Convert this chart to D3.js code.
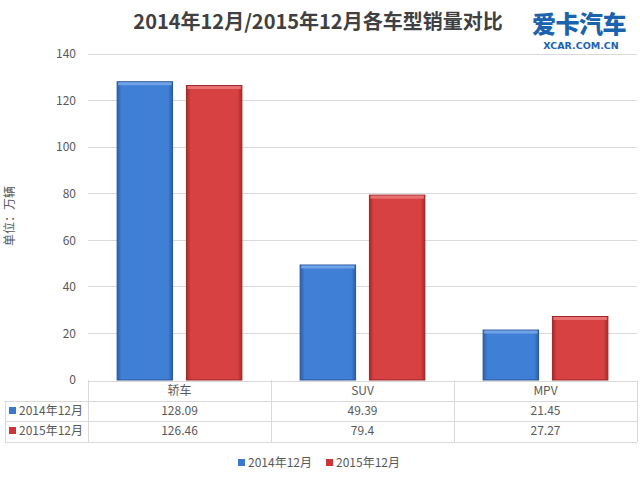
<!DOCTYPE html>
<html><head><meta charset="utf-8">
<script src="https://cdn.jsdelivr.net/npm/d3@7"></script>
<style>body{margin:0;background:#fff}svg{display:block}</style>
</head><body>
<script>
const categories = ["轿车","SUV","MPV"];
const seriesNames = ["2014年12月","2015年12月"];
const values2014 = [128.09, 49.39, 21.45];
const values2015 = [126.46, 79.4, 27.27];
const valueLabels2014 = ["128.09","49.39","21.45"];
const valueLabels2015 = ["126.46","79.4","27.27"];
const yTicks = [0,20,40,60,80,100,120,140];
const title = "2014年12月/2015年12月各车型销量对比";
const yLabel = "单位：万辆";

const W=640,H=480;
const svg=d3.select("body").append("svg").attr("width",W).attr("height",H);
const font="'Noto Sans CJK SC','Noto Sans',sans-serif";
const gray="#595959";
const plotL=88, plotR=637, plotT=54, plotB=380;

const x=d3.scaleBand().domain(categories).range([plotL,plotR]).paddingInner(0).paddingOuter(0);
const y=d3.scaleLinear().domain([0,140]).range([plotB,plotT]);
const xs=d3.scaleBand().domain(seriesNames).range([0,x.bandwidth()]).paddingInner(0.2).paddingOuter(0.42);

const defs=svg.append("defs");
function grad(id,edge,mid){
  const g=defs.append("linearGradient").attr("id",id).attr("x1","0").attr("x2","1").attr("y1","0").attr("y2","0");
  g.append("stop").attr("offset","0").attr("stop-color",edge);
  g.append("stop").attr("offset","0.08").attr("stop-color",mid);
  g.append("stop").attr("offset","0.92").attr("stop-color",mid);
  g.append("stop").attr("offset","1").attr("stop-color",edge);
}
grad("gb","#2c5ea8","#3f7fd6");
grad("gr","#a82a2a","#d84141");
const fills={"2014年12月":"url(#gb)","2015年12月":"url(#gr)"};
const strokes={"2014年12月":"#2a5696","2015年12月":"#9a2626"};
const tops={"2014年12月":"#6fa2e6","2015年12月":"#e87272"};
const solid={"2014年12月":"#3a78cc","2015年12月":"#cc3535"};

// title
svg.append("text").attr("x",318).attr("y",29).attr("text-anchor","middle")
  .attr("font-family",font).attr("font-weight","bold").attr("font-size",20).attr("fill","#404040").text(title);
// logo
svg.append("text").attr("x",579).attr("y",33).attr("text-anchor","middle")
  .attr("font-family",font).attr("font-weight","900").attr("font-size",24).attr("fill","#1b63ae").attr("letter-spacing",-0.5).text("爱卡汽车");
svg.append("text").attr("x",581).attr("y",49).attr("text-anchor","middle")
  .attr("font-family","'DejaVu Sans',sans-serif").attr("font-weight","bold").attr("font-size",9.5).attr("fill","#1b63ae").text("XCAR.COM.CN");

// gridlines
svg.append("g").selectAll("line").data(yTicks.filter(d=>d>0)).join("line")
  .attr("x1",plotL).attr("x2",plotR).attr("y1",d=>y(d)).attr("y2",d=>y(d))
  .attr("stroke","#d9d9d9").attr("stroke-width",1).attr("shape-rendering","crispEdges");

// y axis
const ya=svg.append("g").attr("transform",`translate(${plotL},0)`)
  .call(d3.axisLeft(y).tickValues(yTicks).tickSize(0).tickPadding(12));
ya.select(".domain").remove();
ya.selectAll("text").attr("font-family",font).attr("font-size",12).attr("fill",gray);

svg.append("text").attr("transform","translate(14,216) rotate(-90)").attr("text-anchor","middle")
  .attr("font-family",font).attr("font-size",12).attr("fill",gray).text(yLabel);

// bars
const rows=categories.map((c,i)=>({c,vals:[{s:seriesNames[0],v:values2014[i]},{s:seriesNames[1],v:values2015[i]}]}));
const bg=svg.append("g").selectAll("g").data(rows).join("g").attr("transform",d=>`translate(${x(d.c)},0)`);
const bar=bg.selectAll("g").data(d=>d.vals).join("g");
bar.append("rect").attr("x",d=>xs(d.s)).attr("width",xs.bandwidth())
  .attr("y",d=>y(d.v)).attr("height",d=>y(0)-y(d.v))
  .attr("fill",d=>fills[d.s]).attr("stroke",d=>strokes[d.s]).attr("stroke-width",1);
bar.append("rect").attr("x",d=>xs(d.s)+1).attr("width",xs.bandwidth()-2)
  .attr("y",d=>y(d.v)+0.5).attr("height",3).attr("fill",d=>tops[d.s]);

// data table
const tL=5, hTop=381, r1=401, r2=421, tB=442;
const tg=svg.append("g").attr("stroke","#d9d9d9").attr("stroke-width",1).attr("shape-rendering","crispEdges");
tg.append("line").attr("x1",plotL).attr("x2",plotR).attr("y1",hTop).attr("y2",hTop);
[r1,r2,tB].forEach(yy=>tg.append("line").attr("x1",tL).attr("x2",plotR).attr("y1",yy).attr("y2",yy));
tg.append("line").attr("x1",tL).attr("x2",tL).attr("y1",r1).attr("y2",tB);
categories.forEach(c=>tg.append("line").attr("x1",x(c)).attr("x2",x(c)).attr("y1",plotB).attr("y2",tB));
tg.append("line").attr("x1",plotR).attr("x2",plotR).attr("y1",hTop).attr("y2",tB);

const tt=svg.append("g").attr("font-family",font).attr("font-size",12).attr("fill",gray);
tt.selectAll("text.h").data(categories).join("text").attr("class","h")
  .attr("x",d=>x(d)+x.bandwidth()/2).attr("y",(hTop+r1)/2+4).attr("text-anchor","middle").text(d=>d);
[[valueLabels2014,r1],[valueLabels2015,r2]].forEach(([vals,top])=>{
  tt.append("g").selectAll("text").data(vals).join("text")
    .attr("x",(d,i)=>x(categories[i])+x.bandwidth()/2).attr("y",top+14).attr("text-anchor","middle").text(d=>d);
});
seriesNames.forEach((s,i)=>{
  const top=i?r2:r1;
  svg.append("rect").attr("x",9).attr("y",top+6).attr("width",7).attr("height",7).attr("fill",solid[s]);
  tt.append("text").attr("x",19).attr("y",top+14).text(s);
});

// legend
const lg=svg.append("g").attr("font-family",font).attr("font-size",12).attr("fill",gray);
const lx=[238,326];
seriesNames.forEach((s,i)=>{
  lg.append("rect").attr("x",lx[i]).attr("y",459).attr("width",7).attr("height",7).attr("fill",solid[s]);
  lg.append("text").attr("x",lx[i]+10).attr("y",467).text(s);
});
</script>
</body></html>
